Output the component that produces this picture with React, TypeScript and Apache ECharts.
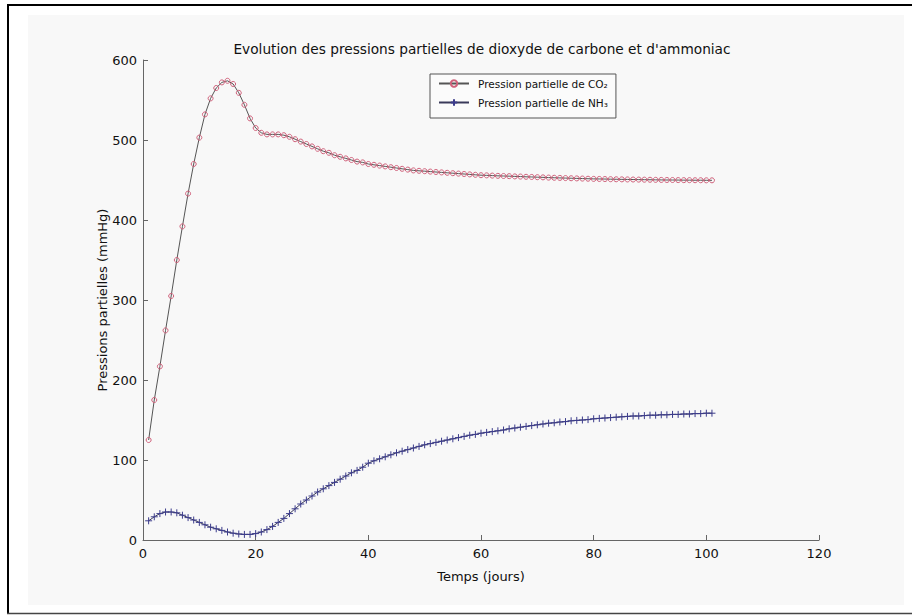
import React, { useEffect, useRef } from "react";
import * as echarts from "echarts";

const TITLE = "Evolution des pressions partielles de dioxyde de carbone et d'ammoniac";
const X_NAME = "Temps (jours)";
const Y_NAME = "Pressions partielles (mmHg)";
const NAME_CO2 = "Pression partielle de CO₂";
const NAME_NH3 = "Pression partielle de NH₃";

const X_MIN = 0;
const X_MAX = 120;
const X_STEP = 20;
const Y_MIN = 0;
const Y_MAX = 600;
const Y_STEP = 100;

const DAYS = [
  1, 2, 3, 4, 5, 6, 7, 8, 9, 10, 11, 12, 13, 14, 15, 16, 17, 18, 19, 20,
  21, 22, 23, 24, 25, 26, 27, 28, 29, 30, 31, 32, 33, 34, 35, 36, 37, 38, 39, 40,
  41, 42, 43, 44, 45, 46, 47, 48, 49, 50, 51, 52, 53, 54, 55, 56, 57, 58, 59, 60,
  61, 62, 63, 64, 65, 66, 67, 68, 69, 70, 71, 72, 73, 74, 75, 76, 77, 78, 79, 80,
  81, 82, 83, 84, 85, 86, 87, 88, 89, 90, 91, 92, 93, 94, 95, 96, 97, 98, 99, 100,
  101,
];

const CO2 = [
  125, 175, 217, 262, 305, 350, 392, 433, 470, 503,
  532, 552, 565, 572, 574, 570, 559, 544, 527, 515,
  509, 507, 507, 507, 506, 504, 501, 498, 495, 492,
  489, 486, 484, 481, 479, 477, 475, 473, 472, 470,
  469, 468, 467, 466, 465, 464, 463, 462, 461.5, 461,
  460.5, 460, 459.5, 459, 458.5, 458, 457.5, 457, 456.5, 456,
  455.8, 455.5, 455.2, 455, 454.8, 454.5, 454.3, 454, 453.8, 453.5,
  453.3, 453, 452.8, 452.6, 452.4, 452.2, 452, 451.8, 451.6, 451.4,
  451.3, 451.2, 451, 450.9, 450.8, 450.7, 450.6, 450.5, 450.4, 450.3,
  450.2, 450.1, 450, 450, 449.9, 449.8, 449.8, 449.7, 449.7, 449.6,
  449.6,
];

const NH3 = [
  24, 29, 33, 35, 35, 34, 31, 28, 25, 22,
  19, 16, 14, 12, 10, 8.5, 7.5, 7, 7, 8,
  10, 13, 17, 22, 27, 33, 39, 45, 50, 55,
  60, 64, 68, 72, 76, 80, 84, 87, 91, 96,
  99, 101.5, 104, 106.5, 109, 111, 113, 115, 117, 119,
  120.5, 122, 123.5, 125, 126.5, 128, 129.5, 131, 132, 133.5,
  134.5, 135.5, 136.5, 137.5, 139, 140, 141, 142, 143, 144,
  145, 146, 146.5, 147.5, 148, 149, 149.5, 150, 150.5, 151.5,
  152, 152.5, 153, 153.5, 154, 154.5, 155, 155, 155.5, 156,
  156, 156.5, 156.5, 157, 157, 157.5, 157.5, 158, 158, 158.5,
  158.5,
];

const FONT = "DejaVu Sans";
const PLUS = "path://M5,0L5,10M0,5L10,5";

export default function App() {
  const ref = useRef<HTMLDivElement>(null);

  useEffect(() => {
    if (!ref.current) return;
    const chart = echarts.init(ref.current, null, { renderer: "svg" });
    const co2Data = DAYS.map((d, i) => [d, CO2[i]]);
    const nh3Data = DAYS.map((d, i) => [d, NH3[i]]);

    chart.setOption({
      animation: false,
      backgroundColor: "#ffffff",
      graphic: [
        {
          type: "rect",
          z: -10,
          silent: true,
          shape: { x: 28, y: 15, width: 876, height: 590 },
          style: { fill: "#f8f8f8" },
        },
        {
          type: "line",
          z: -5,
          silent: true,
          shape: { x1: 8, y1: 5, x2: 912, y2: 5 },
          style: { stroke: "#000", lineWidth: 2 },
        },
        {
          type: "line",
          z: -5,
          silent: true,
          shape: { x1: 8, y1: 4, x2: 8, y2: 614 },
          style: { stroke: "#000", lineWidth: 2 },
        },
        {
          type: "line",
          z: -5,
          silent: true,
          shape: { x1: 7, y1: 613.5, x2: 912, y2: 613.5 },
          style: { stroke: "#444", lineWidth: 1.5 },
        },
      ],
      title: {
        text: TITLE,
        left: 477,
        top: 37,
        textAlign: "center",
        textStyle: { fontFamily: FONT, fontSize: 13.7, fontWeight: "normal", color: "#111" },
      },
      legend: {
        left: 430,
        top: 74,
        orient: "vertical",
        itemWidth: 30,
        itemHeight: 8,
        itemGap: 8,
        padding: [4, 8, 10, 8],
        borderColor: "#555",
        borderWidth: 1,
        backgroundColor: "#fbfbfb",
        textStyle: { fontFamily: FONT, fontSize: 10.5, color: "#111", padding: [0, 0, 0, 4] },
        data: [NAME_CO2, NAME_NH3],
      },
      grid: { left: 143, right: 93, top: 60, bottom: 75, containLabel: false },
      xAxis: {
        type: "value",
        min: X_MIN,
        max: X_MAX,
        interval: X_STEP,
        name: X_NAME,
        nameLocation: "middle",
        nameGap: 30,
        nameMoveOverlap: false,
        nameTextStyle: { fontFamily: FONT, fontSize: 13, color: "#111" },
        axisLine: { lineStyle: { color: "#666", width: 1 } },
        axisTick: { inside: true, length: 5, lineStyle: { color: "#666" } },
        axisLabel: { fontFamily: FONT, fontSize: 13, color: "#111", margin: 7 },
        splitLine: { show: false },
      },
      yAxis: {
        type: "value",
        min: Y_MIN,
        max: Y_MAX,
        interval: Y_STEP,
        name: Y_NAME,
        nameLocation: "middle",
        nameGap: 34,
        nameMoveOverlap: false,
        nameTextStyle: { fontFamily: FONT, fontSize: 13, color: "#111" },
        axisLine: { show: true, lineStyle: { color: "#666", width: 1 } },
        axisTick: { show: true, inside: true, length: 5, lineStyle: { color: "#666" } },
        axisLabel: { fontFamily: FONT, fontSize: 13, color: "#111", margin: 6 },
        splitLine: { show: false },
      },
      series: [
        {
          name: NAME_CO2,
          type: "line",
          data: co2Data,
          symbol: "circle",
          symbolSize: 5,
          showSymbol: true,
          lineStyle: { color: "#555", width: 1 },
          itemStyle: { color: "rgba(0,0,0,0)", borderColor: "#d0607a", borderWidth: 1 },
        },
        {
          name: NAME_NH3,
          type: "line",
          data: nh3Data,
          symbol: PLUS,
          symbolSize: 7,
          showSymbol: true,
          lineStyle: { color: "#3a3a5a", width: 1 },
          itemStyle: { color: "rgba(0,0,0,0)", borderColor: "#3c3c8c", borderWidth: 1 },
        },
      ],
    });
    return () => chart.dispose();
  }, []);

  return (
    <div
      ref={ref}
      style={{ position: "absolute", left: 0, top: 0, width: 912, height: 615 }}
    />
  );
}
